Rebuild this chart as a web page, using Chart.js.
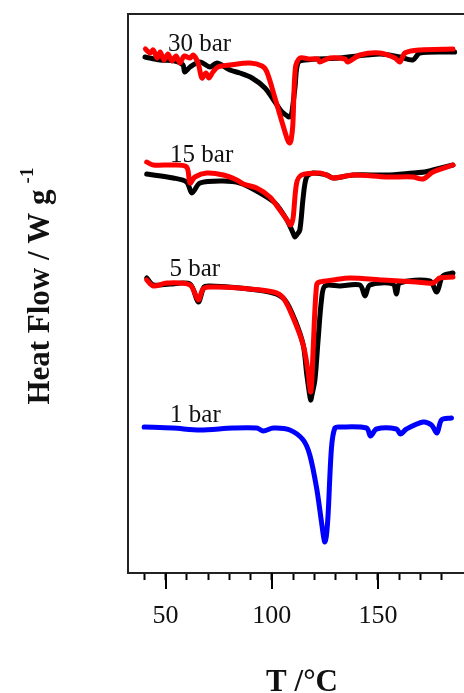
<!DOCTYPE html>
<html>
<head>
<meta charset="utf-8">
<script src="https://cdn.jsdelivr.net/npm/chart.js@4.4.1/dist/chart.umd.min.js"></script>
<style>
  html, body { margin: 0; padding: 0; background: #fff; }
  #wrap { width: 464px; height: 693px; }
</style>
</head>
<body>
<div id="wrap"><canvas id="dsc"></canvas></div>
<script>
// DSC traces, heat flow in arbitrary units (curves are offset vertically)
const t1bar  = [39.9, 53.5, 66.2, 81.7, 92.9, 96.0, 100.7, 108.5, 114.8, 117.9, 121.1, 123.4, 124.4, 125.0, 125.7, 126.5, 128.1, 129.7, 132.0, 144.6, 146.5, 149.3, 158.7, 160.6, 163.4, 171.2, 175.2, 177.8, 179.9, 184.6];
const hf1bar = [146, 145, 143, 145, 145, 142, 145, 143, 133, 118, 85, 51, 36, 31, 37, 58, 125, 145, 146, 145, 137, 144, 144, 139, 144, 151, 148, 140, 153, 155];

const t5barBlack  = [41.1, 44.2, 52.1, 61.5, 65.4, 68.1, 70.9, 85.0, 100.7, 106.2, 110.9, 114.8, 116.5, 117.7, 118.3, 118.9, 120.3, 121.8, 123.4, 125.0, 132.0, 141.5, 143.9, 146.2, 157.0, 158.7, 160.3, 174.4, 177.7, 180.5, 185.3];
const hf5barBlack = [295, 288, 289, 289, 271, 286, 287, 285, 280, 273, 253, 228, 198, 180, 173, 178, 193, 233, 273, 287, 287, 288, 277, 288, 289, 279, 290, 292, 281, 297, 300];
const t5barRed    = [41.1, 44.2, 50.5, 61.5, 65.4, 67.6, 70.9, 85.0, 100.7, 105.4, 110.1, 114.8, 117.1, 117.8, 118.3, 118.8, 119.5, 121.1, 122.6, 128.9, 136.8, 152.4, 168.1, 175.9, 179.1, 185.3];
const hf5barRed   = [293, 287, 290, 288, 273, 284, 286, 285, 281, 275, 255, 228, 201, 187, 181, 190, 225, 288, 291, 293, 295, 293, 291, 290, 295, 296];

const t15barBlack  = [41.1, 53.6, 59.9, 62.4, 66.2, 77.2, 85.0, 92.9, 101.5, 107.1, 110.2, 110.9, 111.7, 113.2, 114.8, 116.4, 119.5, 125.8, 128.9, 138.3, 154.0, 166.5, 172.0, 175.9, 185.3];
const hf15barBlack = [399, 395, 391, 380, 390, 392, 390, 382, 370, 353, 339, 336, 338, 343, 376, 396, 400, 398, 395, 398, 398, 400, 401, 403, 408];
const t15barRed    = [41.1, 44.2, 53.6, 59.9, 61.5, 63.8, 69.4, 77.2, 83.5, 86.6, 92.9, 99.1, 103.8, 107.8, 108.5, 109.3, 110.1, 111.7, 114.0, 122.6, 125.8, 128.9, 138.3, 154.0, 166.5, 171.2, 175.9, 185.3];
const hf15barRed   = [411, 408, 408, 406, 390, 396, 400, 398, 393, 389, 385, 376, 363, 351, 348, 349, 356, 390, 398, 400, 398, 395, 398, 396, 396, 394, 401, 408];

const t30barBlack  = [40.3, 47.4, 54.4, 58.2, 59.0, 61.5, 66.2, 70.9, 74.2, 80.3, 85.0, 90.7, 96.8, 101.5, 104.8, 107.3, 108.1, 108.9, 109.5, 110.9, 112.3, 115.6, 132.0, 150.9, 160.3, 166.4, 169.7, 186.1];
const hf30barBlack = [516, 513, 512, 508, 501, 506, 511, 506, 510, 503, 500, 495, 485, 471, 461, 457, 456, 457, 461, 485, 510, 513, 515, 519, 516, 513, 520, 521];
const t30barRed    = [40.5, 42.7, 44.2, 46.0, 47.4, 49.3, 51.1, 53.0, 54.9, 56.8, 58.7, 61.5, 62.9, 65.3, 67.1, 69.0, 70.4, 72.3, 74.7, 80.3, 89.7, 95.4, 97.7, 101.5, 104.8, 107.1, 107.9, 108.5, 109.1, 109.9, 111.1, 113.2, 117.9, 121.7, 122.6, 127.3, 134.4, 135.8, 141.5, 150.9, 158.0, 160.3, 162.7, 169.7, 185.3];
const hf30barRed   = [524, 520, 523, 515, 521, 513, 519, 512, 517, 510, 517, 515, 518, 510, 495, 500, 495, 501, 506, 508, 510, 507, 501, 475, 451, 435, 431, 430, 433, 448, 505, 515, 514, 514, 511, 515, 514, 511, 518, 520, 515, 511, 520, 523, 524];

const curveLabels = ['30 bar', '15 bar', '5 bar', '1 bar'];
const labelT  = [51.1, 52.1, 51.8, 52.1];
const labelHF = [529, 418, 304, 158];

const tickValues = [40, 50, 60, 70, 80, 90, 100, 110, 120, 130, 140, 150, 160, 170, 180];
const majorTicks = [50, 100, 150];

const xTitle = 'T /°C';
const yTitle = 'Heat Flow / W g';
const yTitleSup = '-1';

const pts = (xs, ys) => xs.map((x, i) => ({ x: x, y: ys[i] }));
const serif = '"Liberation Serif", "Times New Roman", serif';

function trace(xs, ys, color) {
  return {
    data: pts(xs, ys),
    borderColor: color,
    borderWidth: 5,
    pointRadius: 0,
    tension: 0.3,
    borderJoinStyle: 'round',
    borderCapStyle: 'round'
  };
}

const decorations = {
  id: 'decorations',
  afterDraw(chart) {
    const { ctx, chartArea: a, scales: { x, y } } = chart;
    ctx.save();
    // top frame line
    ctx.strokeStyle = '#222';
    ctx.lineWidth = 2;
    ctx.beginPath();
    ctx.moveTo(a.left - 1, a.top);
    ctx.lineTo(a.right, a.top);
    ctx.stroke();
    // long major ticks
    ctx.strokeStyle = '#000';
    majorTicks.forEach(v => {
      const px = Math.round(x.getPixelForValue(v));
      ctx.beginPath();
      ctx.moveTo(px, a.bottom);
      ctx.lineTo(px, a.bottom + 16);
      ctx.stroke();
    });
    // curve labels
    ctx.fillStyle = '#111';
    ctx.font = '25px ' + serif;
    ctx.textBaseline = 'middle';
    ctx.textAlign = 'left';
    curveLabels.forEach((txt, i) => {
      ctx.fillText(txt, x.getPixelForValue(labelT[i]), y.getPixelForValue(labelHF[i]));
    });
    // x title
    ctx.font = 'bold 31px ' + serif;
    ctx.textAlign = 'center';
    ctx.textBaseline = 'alphabetic';
    ctx.fillText(xTitle, 302, 691);
    // y title with superscript
    ctx.translate(49, 297);
    ctx.rotate(-Math.PI / 2);
    ctx.font = 'bold 31px ' + serif;
    const w = ctx.measureText(yTitle).width;
    ctx.fillText(yTitle, 0, 0);
    ctx.font = 'bold 19px ' + serif;
    ctx.textAlign = 'left';
    ctx.fillText(yTitleSup, w / 2 + 6, -16);
    ctx.restore();
  }
};

new Chart(document.getElementById('dsc'), {
  type: 'line',
  data: {
    datasets: [
      trace(t30barRed, hf30barRed, '#ff0000'),
      trace(t30barBlack, hf30barBlack, '#000000'),
      trace(t15barRed, hf15barRed, '#ff0000'),
      trace(t15barBlack, hf15barBlack, '#000000'),
      trace(t5barRed, hf5barRed, '#ff0000'),
      trace(t5barBlack, hf5barBlack, '#000000'),
      trace(t1bar, hf1bar, '#0000ff')
    ]
  },
  options: {
    responsive: true,
    maintainAspectRatio: false,
    animation: false,
    layout: { padding: { top: 14, right: 0, bottom: 0, left: 0 } },
    plugins: { legend: { display: false }, tooltip: { enabled: false } },
    scales: {
      x: {
        type: 'linear',
        min: 32.3,
        max: 190.5,
        afterBuildTicks: s => { s.ticks = tickValues.map(v => ({ value: v })); },
        afterFit: s => { s.height = 120; },
        ticks: {
          autoSkip: false,
          maxRotation: 0,
          padding: 21,
          color: '#111',
          font: { family: serif, size: 26 },
          callback: v => majorTicks.includes(v) ? String(v) : ''
        },
        grid: { display: true, drawOnChartArea: false, drawTicks: true, tickLength: 7, tickWidth: 2, tickColor: '#000' },
        border: { display: true, color: '#222', width: 2 }
      },
      y: {
        min: 0,
        max: 559,
        afterFit: s => { s.width = 128; },
        ticks: { display: false },
        grid: { display: false },
        border: { display: true, color: '#222', width: 2 }
      }
    }
  },
  plugins: [decorations]
});
</script>
</body>
</html>
